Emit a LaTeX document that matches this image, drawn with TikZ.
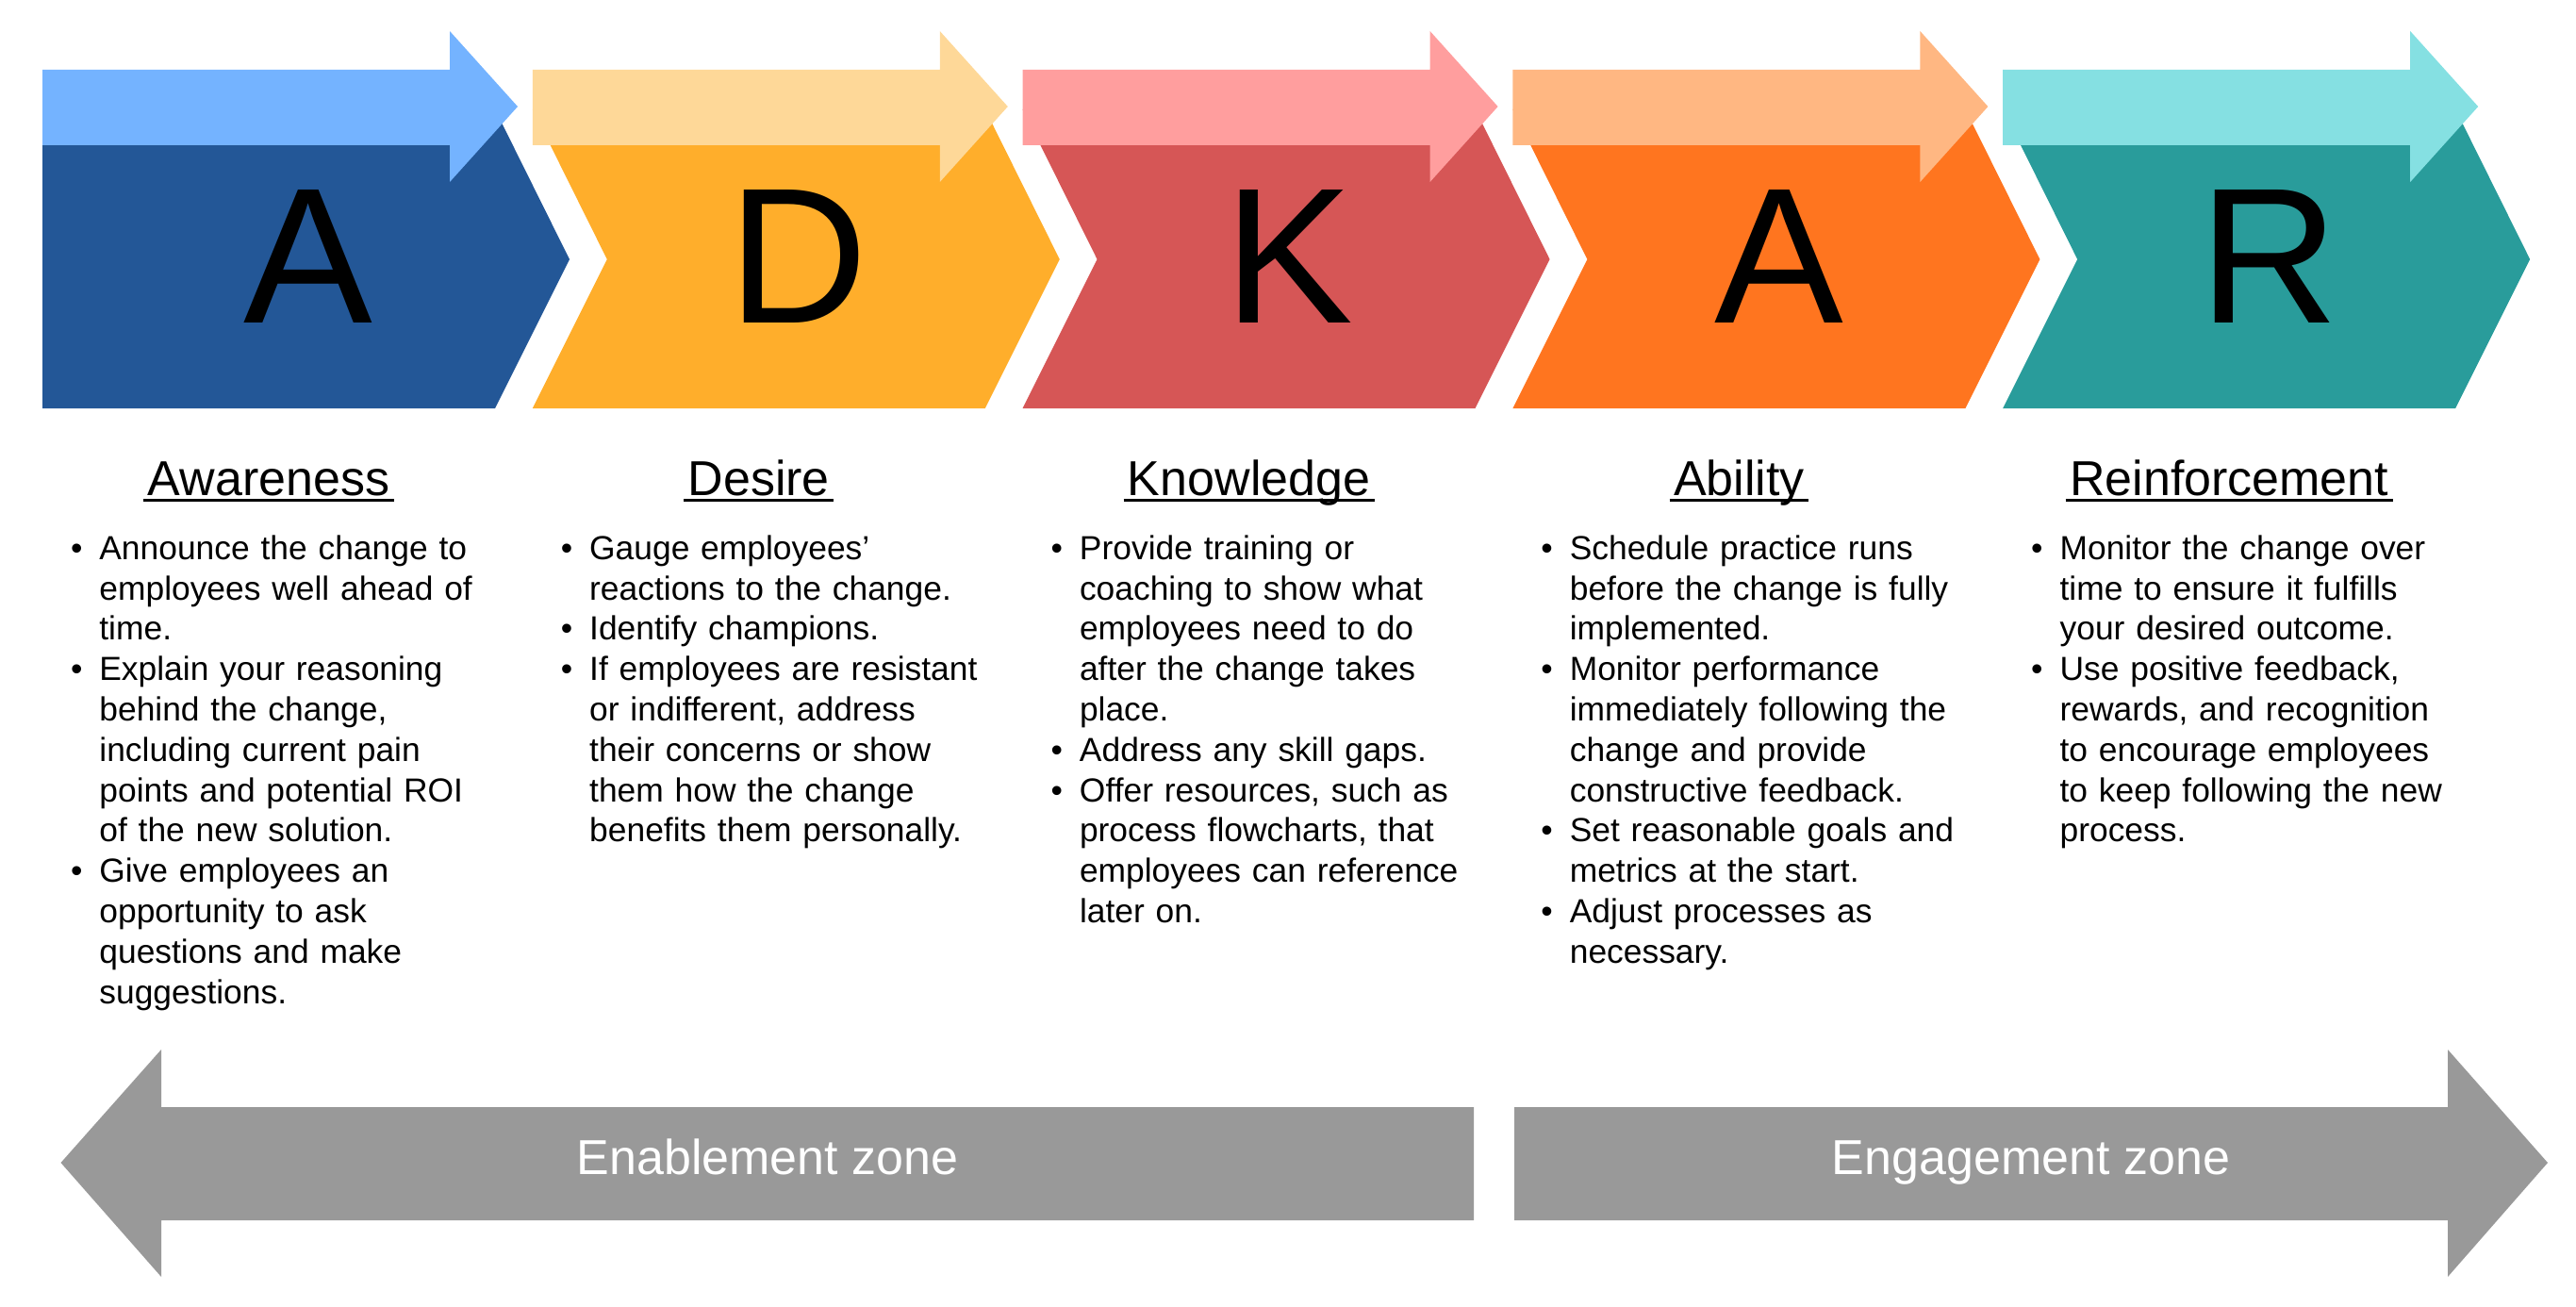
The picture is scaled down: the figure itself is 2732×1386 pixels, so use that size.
\documentclass[tikz,border=0pt]{standalone}
\usepackage{fontspec}
\setmainfont{Liberation Sans}
\usetikzlibrary{calc}
\definecolor{lblue}{RGB}{116,179,255}
\definecolor{dblue}{RGB}{35,87,151}
\definecolor{lyel}{RGB}{254,216,152}
\definecolor{dyel}{RGB}{255,174,43}
\definecolor{lred}{RGB}{255,158,158}
\definecolor{dred}{RGB}{214,86,86}
\definecolor{lora}{RGB}{255,183,130}
\definecolor{dora}{RGB}{255,117,31}
\definecolor{lteal}{RGB}{133,224,226}
\definecolor{dteal}{RGB}{41,156,155}
\definecolor{zonegray}{RGB}{153,153,153}
\newcommand{\bitem}{\strut\llap{\textbullet\hspace{9pt}}}
\begin{document}
\begin{tikzpicture}[x=0.5pt, y=-0.5pt,
        tag/.style={inner sep=0pt, anchor=base, font=\fontsize{102.5}{110}\selectfont},
        head/.style={inner sep=0pt, anchor=base, font=\fontsize{26}{30}\selectfont},
        uline/.style={line width=1.5pt},
        bullets/.style={inner sep=0pt, anchor=north west, text width=220pt, align=left, font=\fontsize{17.7}{21.4}\selectfont},
        zone/.style={inner sep=0pt, anchor=base, text=white, font=\fontsize{26}{30}\selectfont}
    ]
    \useasboundingbox (0,0) rectangle (2732,1386);
    % chevrons, letters and headings
    \foreach \i/\lt/\dk/\lett/\name in {0/lblue/dblue/A/Awareness, 1/lyel/dyel/D/Desire,
        2/lred/dred/K/Knowledge, 3/lora/dora/A/Ability, 4/lteal/dteal/R/Reinforcement}
    {
        \pgfmathsetmacro\xo{45+519.8*\i}
        \pgfmathsetmacro\nk{\i==0 ? 0 : 79}
        \fill[\dk] (\xo,116) -- (\xo+480,116) -- (\xo+559,275) -- (\xo+480,433)
            -- (\xo,433) -- (\xo+\nk,275) -- cycle;
        \fill[\lt] (\xo,74) -- (\xo+432,74) -- (\xo+432,33) -- (\xo+504,113)
            -- (\xo+432,193) -- (\xo+432,154) -- (\xo,154) -- cycle;
        \node[tag] (let\i) at (\xo+282,342) {\lett};
        \node[head] (head\i) at (\xo+240,525) {\name};
        \draw[uline] ($(head\i.base west)+(-4,5)$) -- ($(head\i.base east)+(4,5)$);
    }
    % bullet lists
    \node[bullets] (txt0) at (105,563) {%
        \bitem Announce the change to\\ employees well ahead of\\ time.\\
        \bitem Explain your reasoning\\ behind the change,\\ including current pain\\
        points and potential ROI\\ of the new solution.\\
        \bitem Give employees an\\ opportunity to ask\\ questions and make\\ suggestions.};
    \node[bullets] (txt1) at (624.8,563) {%
        \bitem Gauge employees'\\ reactions to the change.\\
        \bitem Identify champions.\\
        \bitem If employees are resistant\\ or indifferent, address\\ their concerns or show\\
        them how the change\\ benefits them personally.};
    \node[bullets] (txt2) at (1144.6,563) {%
        \bitem Provide training or\\ coaching to show what\\ employees need to do\\
        after the change takes\\ place.\\
        \bitem Address any skill gaps.\\
        \bitem Offer resources, such as\\ process flowcharts, that\\ employees can reference\\ later on.};
    \node[bullets] (txt3) at (1664.4,563) {%
        \bitem Schedule practice runs\\ before the change is fully\\ implemented.\\
        \bitem Monitor performance\\ immediately following the\\ change and provide\\ constructive feedback.\\
        \bitem Set reasonable goals and\\ metrics at the start.\\
        \bitem Adjust processes as\\ necessary.};
    \node[bullets] (txt4) at (2184.2,563) {%
        \bitem Monitor the change over\\ time to ensure it fulfills\\ your desired outcome.\\
        \bitem Use positive feedback,\\ rewards, and recognition\\ to encourage employees\\
        to keep following the new\\ process.};
    % zone arrows
    \fill[zonegray] (64.5,1233) -- (171,1113) -- (171,1174) -- (1563,1174) -- (1563,1294)
        -- (171,1294) -- (171,1354) -- cycle;
    \fill[zonegray] (1606,1174) -- (2596,1174) -- (2596,1113) -- (2702,1233) -- (2596,1354)
        -- (2596,1294) -- (1606,1294) -- cycle;
    \node[zone] (enab) at (814,1245) {Enablement zone};
    \node[zone] (enga) at (2154,1245) {Engagement zone};
\end{tikzpicture}
\end{document}
